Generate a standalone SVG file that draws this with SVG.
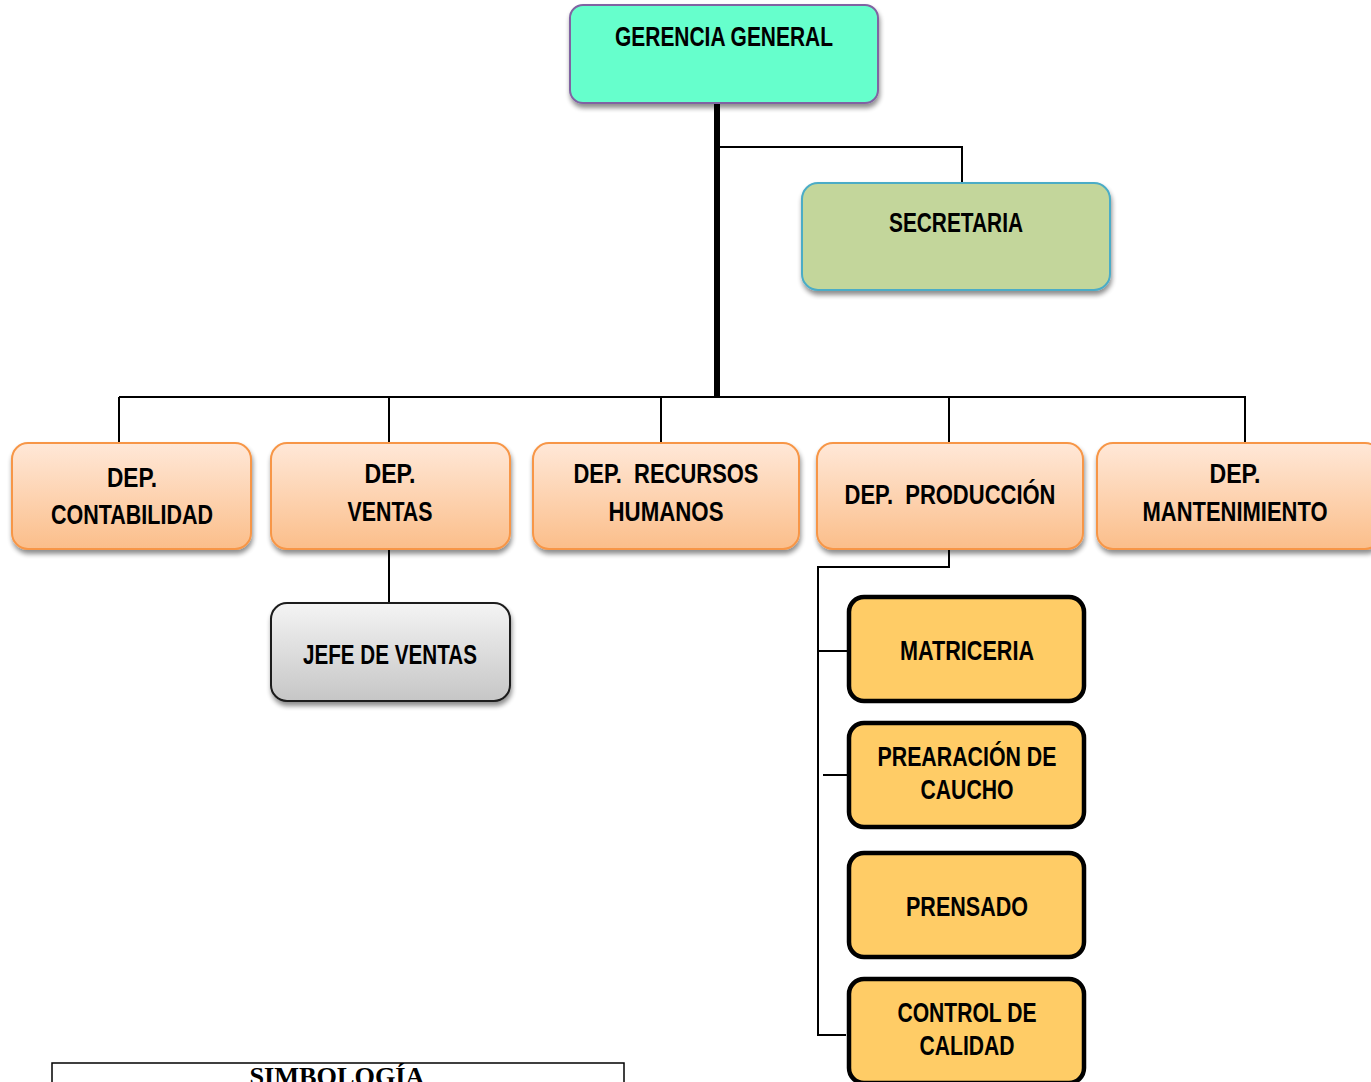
<svg xmlns="http://www.w3.org/2000/svg" width="1371" height="1082" viewBox="0 0 1371 1082">
  <defs>
    <linearGradient id="gOrange" x1="0" y1="0" x2="0" y2="1">
      <stop offset="0" stop-color="#FFE8D8"/>
      <stop offset="1" stop-color="#FBBE8A"/>
    </linearGradient>
    <linearGradient id="gGray" x1="0" y1="0" x2="0" y2="1">
      <stop offset="0" stop-color="#F4F4F4"/>
      <stop offset="1" stop-color="#C6C6C6"/>
    </linearGradient>
    <filter id="shadow" x="-10%" y="-10%" width="120%" height="130%">
      <feGaussianBlur in="SourceAlpha" stdDeviation="2.5"/>
      <feOffset dx="1" dy="4" result="b"/>
      <feComponentTransfer><feFuncA type="linear" slope="0.45"/></feComponentTransfer>
      <feMerge><feMergeNode/><feMergeNode in="SourceGraphic"/></feMerge>
    </filter>
  </defs>
  <style>
    .lbl { font-family: "Liberation Sans", Arial, sans-serif; font-weight: bold; font-size: 27px; fill: #000; text-anchor: middle; }
    .ttl { font-family: "Liberation Serif", serif; font-weight: bold; font-size: 26px; fill: #000; text-anchor: middle; }
    .ln { fill: none; stroke: #000; stroke-width: 2; }
    .dept { fill: url(#gOrange); stroke: #F79646; stroke-width: 2; filter: url(#shadow); }
    .area { fill: #FFCC66; stroke: #000; stroke-width: 4.5; }
  </style>

  <rect width="1371" height="1082" fill="#FFFFFF"/>

  <!-- connectors -->
  <g id="connectors">
    <line x1="717" y1="103" x2="717" y2="397" stroke="#000" stroke-width="6"/>
    <polyline class="ln" points="718,147 962,147 962,185"/>
    <line class="ln" x1="119" y1="397" x2="1245" y2="397"/>
    <line class="ln" x1="119" y1="397" x2="119" y2="443"/>
    <line class="ln" x1="389" y1="397" x2="389" y2="443"/>
    <line class="ln" x1="661" y1="397" x2="661" y2="443"/>
    <line class="ln" x1="949" y1="397" x2="949" y2="443"/>
    <line class="ln" x1="1245" y1="396" x2="1245" y2="443"/>
    <line class="ln" x1="389" y1="550" x2="389" y2="603"/>
    <polyline class="ln" points="949,550 949,567 818,567 818,1035 846,1035"/>
    <line class="ln" x1="818" y1="651" x2="849" y2="651"/>
    <line class="ln" x1="823" y1="775" x2="849" y2="775"/>
  </g>

  <g id="gerencia-general">
    <rect x="570" y="5" width="308" height="98" rx="13" fill="#66FFCC" stroke="#8064A2" stroke-width="2" filter="url(#shadow)"/>
    <text class="lbl" x="724" y="46" textLength="218" lengthAdjust="spacingAndGlyphs">GERENCIA GENERAL</text>
  </g>

  <g id="secretaria">
    <rect x="802" y="183" width="308" height="107" rx="16" fill="#C3D69B" stroke="#4BACC6" stroke-width="2" filter="url(#shadow)"/>
    <text class="lbl" x="956" y="232" textLength="134" lengthAdjust="spacingAndGlyphs">SECRETARIA</text>
  </g>

  <g id="dep-contabilidad">
    <rect class="dept" x="12" y="443" width="239" height="106" rx="16"/>
    <text class="lbl" x="132" y="487" textLength="50" lengthAdjust="spacingAndGlyphs">DEP.</text>
    <text class="lbl" x="132" y="524" textLength="162" lengthAdjust="spacingAndGlyphs">CONTABILIDAD</text>
  </g>

  <g id="dep-ventas">
    <rect class="dept" x="271" y="443" width="239" height="106" rx="16"/>
    <text class="lbl" x="390" y="483" textLength="51" lengthAdjust="spacingAndGlyphs">DEP.</text>
    <text class="lbl" x="390" y="521" textLength="85" lengthAdjust="spacingAndGlyphs">VENTAS</text>
  </g>

  <g id="dep-recursos-humanos">
    <rect class="dept" x="533" y="443" width="266" height="106" rx="16"/>
    <text class="lbl" x="666" y="483" textLength="185" lengthAdjust="spacingAndGlyphs" xml:space="preserve">DEP.  RECURSOS</text>
    <text class="lbl" x="666" y="521" textLength="115" lengthAdjust="spacingAndGlyphs">HUMANOS</text>
  </g>

  <g id="dep-produccion">
    <rect class="dept" x="817" y="443" width="266" height="106" rx="16"/>
    <text class="lbl" x="950" y="504" textLength="211" lengthAdjust="spacingAndGlyphs" xml:space="preserve">DEP.  PRODUCCIÓN</text>
  </g>

  <g id="dep-mantenimiento">
    <rect class="dept" x="1097" y="443" width="284" height="106" rx="16"/>
    <text class="lbl" x="1235" y="483" textLength="51" lengthAdjust="spacingAndGlyphs">DEP.</text>
    <text class="lbl" x="1235" y="521" textLength="185" lengthAdjust="spacingAndGlyphs">MANTENIMIENTO</text>
  </g>

  <g id="jefe-de-ventas">
    <rect x="271" y="603" width="239" height="98" rx="16" fill="url(#gGray)" stroke="#1A1A1A" stroke-width="2" filter="url(#shadow)"/>
    <text class="lbl" x="390" y="664" textLength="174" lengthAdjust="spacingAndGlyphs">JEFE DE VENTAS</text>
  </g>

  <g id="matriceria">
    <rect class="area" x="849" y="597" width="235" height="104" rx="15"/>
    <text class="lbl" x="967" y="660" textLength="134" lengthAdjust="spacingAndGlyphs">MATRICERIA</text>
  </g>

  <g id="preparacion-caucho">
    <rect class="area" x="849" y="723" width="235" height="104" rx="15"/>
    <text class="lbl" x="967" y="766" textLength="179" lengthAdjust="spacingAndGlyphs">PREARACIÓN DE</text>
    <text class="lbl" x="967" y="799" textLength="93" lengthAdjust="spacingAndGlyphs">CAUCHO</text>
  </g>

  <g id="prensado">
    <rect class="area" x="849" y="853" width="235" height="104" rx="15"/>
    <text class="lbl" x="967" y="916" textLength="122" lengthAdjust="spacingAndGlyphs">PRENSADO</text>
  </g>

  <g id="control-calidad">
    <rect class="area" x="849" y="979" width="235" height="104" rx="15"/>
    <text class="lbl" x="967" y="1022" textLength="139" lengthAdjust="spacingAndGlyphs">CONTROL DE</text>
    <text class="lbl" x="967" y="1055" textLength="95" lengthAdjust="spacingAndGlyphs">CALIDAD</text>
  </g>

  <g id="simbologia">
    <rect x="52" y="1063" width="572" height="40" fill="none" stroke="#000" stroke-width="1.5"/>
    <text class="ttl" x="337" y="1085" textLength="175" lengthAdjust="spacingAndGlyphs">SIMBOLOGÍA</text>
  </g>
</svg>
